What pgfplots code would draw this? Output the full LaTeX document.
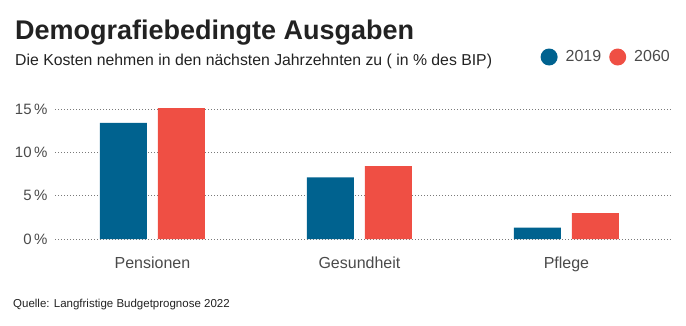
\documentclass[border=0pt]{standalone}
\usepackage{pgfplots}
\pgfplotsset{compat=1.18}
\usepackage{fontspec}
\setmainfont{Liberation Sans}
\definecolor{cblue}{HTML}{00628F}
\definecolor{cred}{HTML}{EF4F44}
\definecolor{ctext}{HTML}{222222}
\definecolor{cgray}{HTML}{4A4A4A}
\definecolor{cgrid}{HTML}{7A7A7A}
\begin{document}
\begin{tikzpicture}[x=1pt,y=1pt]
\path[use as bounding box] (0,0) rectangle (686,325);
\node[anchor=base west,inner sep=0pt,text=ctext] at (15,286) {\fontsize{27}{30}\selectfont\bfseries Demografiebedingte Ausgaben};
\node[anchor=base west,inner sep=0pt,text=ctext] at (15,260) {\fontsize{15.8}{18}\selectfont Die Kosten nehmen in den nächsten Jahrzehnten zu ( in \% des BIP)};
\node[anchor=base west,inner sep=0pt,text=ctext] at (13,18) {\fontsize{11.5}{13}\selectfont Quelle: Langfristige Budgetprognose 2022};
\begin{axis}[
  at={(55pt,86pt)}, anchor=south west,
  scale only axis, width=617pt, height=130pt,
  xmin=-0.471, xmax=2.510, ymin=0, ymax=15,
  axis line style={draw=none},
  clip=false,
  xtick={0,1,2}, xticklabels={Pensionen,Gesundheit,Pflege},
  ytick={0,5,10,15}, yticklabels={0\,\%,5\,\%,10\,\%,15\,\%},
  major tick length=0pt,
  ymajorgrids,
  grid style={cgrid, line width=0.8pt, dash pattern=on 0.8pt off 2.2pt},
  xticklabel style={font=\fontsize{16}{18}\selectfont, text=cgray, anchor=base, yshift=-29pt},
  yticklabel style={font=\fontsize{15}{18}\selectfont, text=cgray, anchor=east, xshift=-4pt},
  ybar, bar width=47pt,
  legend columns=2,
  legend style={draw=none, fill=none, at={(axis description cs:1,1.4)}, anchor=east, xshift=3pt,
    font=\fontsize{16}{18}\selectfont, text=cgray,
    /tikz/every odd column/.append style={column sep=6pt},
    /tikz/every even column/.append style={column sep=6pt}},
  legend image code/.code={\fill[#1] (0pt,0pt) circle (8.5pt);},
]
\addplot[fill=cblue, draw=none, bar shift=-29pt] coordinates {(0,13.4) (1,7.1) (2,1.3)};
\addplot[fill=cred, draw=none, bar shift=29pt] coordinates {(0,15.1) (1,8.4) (2,3.0)};
\legend{2019,2060}
\end{axis}
\end{tikzpicture}
\end{document}
